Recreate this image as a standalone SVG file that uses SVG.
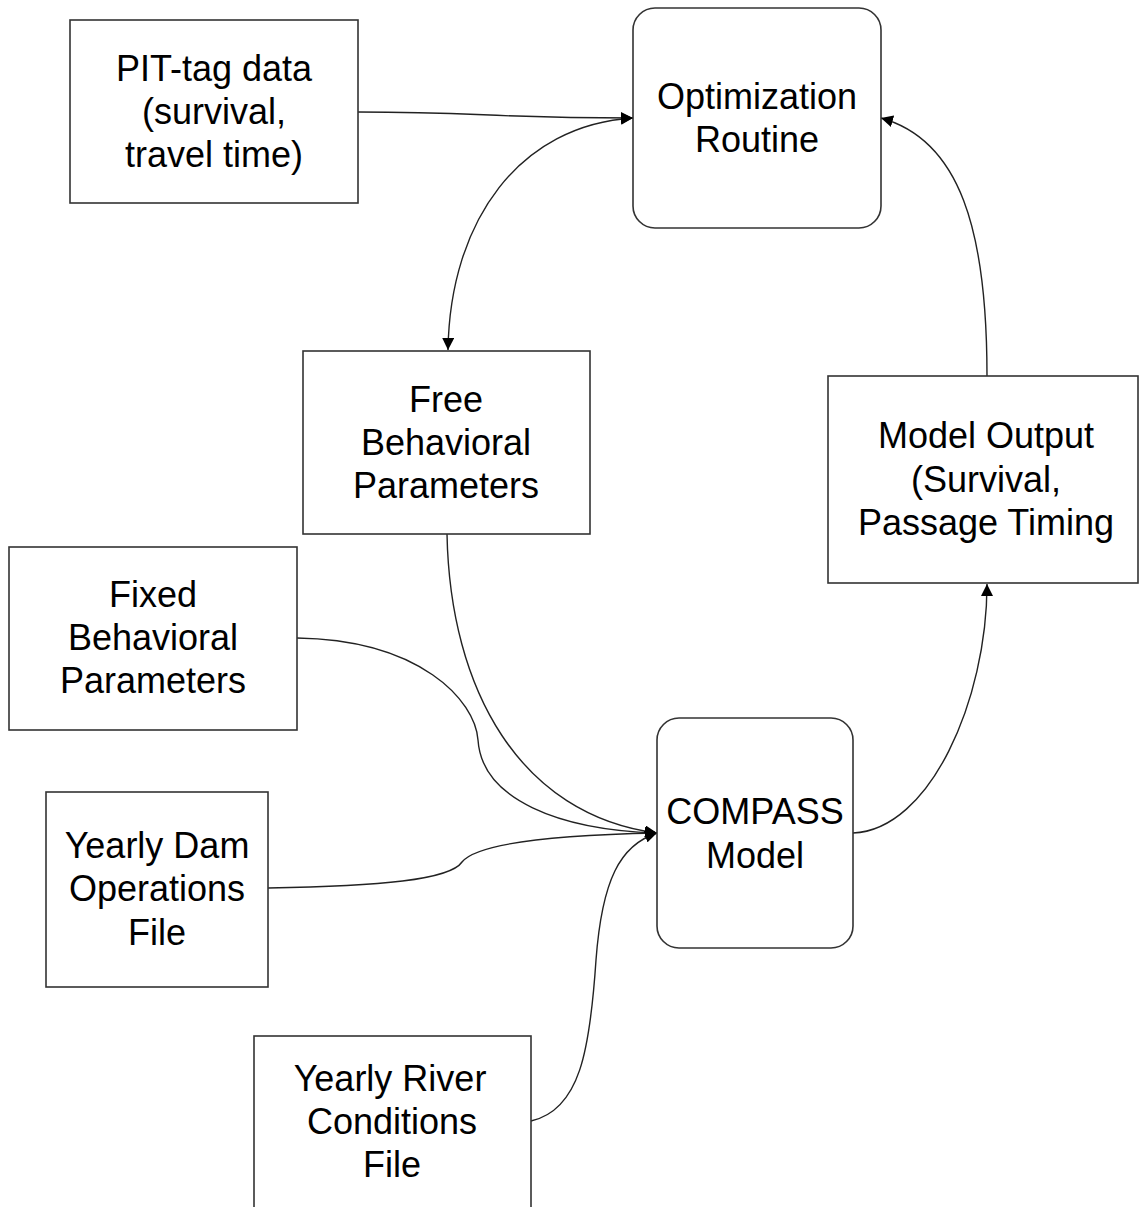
<svg xmlns="http://www.w3.org/2000/svg" width="1139" height="1207" viewBox="0 0 1139 1207">
<style>
.box{fill:#fff;stroke:#333;stroke-width:1.6}
.lbl{font-family:"Liberation Sans",Arial,sans-serif;font-size:36px;fill:#000;text-anchor:middle}
.con{fill:none;stroke:#222;stroke-width:1.4}
</style>
<defs>
<marker id="ah" markerUnits="userSpaceOnUse" markerWidth="14" markerHeight="12" refX="12" refY="6" orient="auto-start-reverse">
<path d="M0,0 L12,6 L0,12 Z" fill="#000"/>
</marker>
</defs>
<rect width="1139" height="1207" fill="#fff"/>
<g id="connectors">
<path class="con" d="M358,112 C480,112 490,118 633,118" marker-end="url(#ah)"/>
<path class="con" d="M633,118 C520,125 450,220 448,350" marker-start="url(#ah)" marker-end="url(#ah)"/>
<path class="con" d="M987,376 C987,230 960,140 881,118" marker-end="url(#ah)"/>
<path class="con" d="M853,833 C930,830 987,700 987,584" marker-end="url(#ah)"/>
<path class="con" d="M447,534 C450,690 520,815 657,833" marker-end="url(#ah)"/>
<path class="con" d="M297,638 C420,640 475,700 478,740 C482,800 560,830 657,833" marker-end="url(#ah)"/>
<path class="con" d="M268,888 C380,886 450,880 462,862 C478,842 560,835 657,833" marker-end="url(#ah)"/>
<path class="con" d="M531,1121 C580,1110 590,1050 596,960 C602,880 620,845 657,833" marker-end="url(#ah)"/>
</g>
<g id="pit">
<rect class="box" x="70" y="20" width="288" height="183"/>
<text class="lbl" x="214" y="81">PIT-tag data</text>
<text class="lbl" x="214" y="124">(survival,</text>
<text class="lbl" x="214" y="167">travel time)</text>
</g>
<g id="optimization">
<rect class="box" x="633" y="8" width="248" height="220" rx="22" ry="22"/>
<text class="lbl" x="757" y="109">Optimization</text>
<text class="lbl" x="757" y="152">Routine</text>
</g>
<g id="free">
<rect class="box" x="303" y="351" width="287" height="183"/>
<text class="lbl" x="446" y="412">Free</text>
<text class="lbl" x="446" y="455">Behavioral</text>
<text class="lbl" x="446" y="498">Parameters</text>
</g>
<g id="output">
<rect class="box" x="828" y="376" width="310" height="207"/>
<text class="lbl" x="986" y="448">Model Output</text>
<text class="lbl" x="986" y="492">(Survival,</text>
<text class="lbl" x="986" y="535">Passage Timing</text>
</g>
<g id="fixed">
<rect class="box" x="9" y="547" width="288" height="183"/>
<text class="lbl" x="153" y="607">Fixed</text>
<text class="lbl" x="153" y="650">Behavioral</text>
<text class="lbl" x="153" y="693">Parameters</text>
</g>
<g id="compass">
<rect class="box" x="657" y="718" width="196" height="230" rx="22" ry="22"/>
<text class="lbl" x="755" y="824">COMPASS</text>
<text class="lbl" x="755" y="868">Model</text>
</g>
<g id="dam">
<rect class="box" x="46" y="792" width="222" height="195"/>
<text class="lbl" x="157" y="858">Yearly Dam</text>
<text class="lbl" x="157" y="901">Operations</text>
<text class="lbl" x="157" y="945">File</text>
</g>
<g id="river">
<rect class="box" x="254" y="1036" width="277" height="190"/>
<text class="lbl" x="390" y="1091">Yearly River</text>
<text class="lbl" x="392" y="1134">Conditions</text>
<text class="lbl" x="392" y="1177">File</text>
</g>
</svg>
